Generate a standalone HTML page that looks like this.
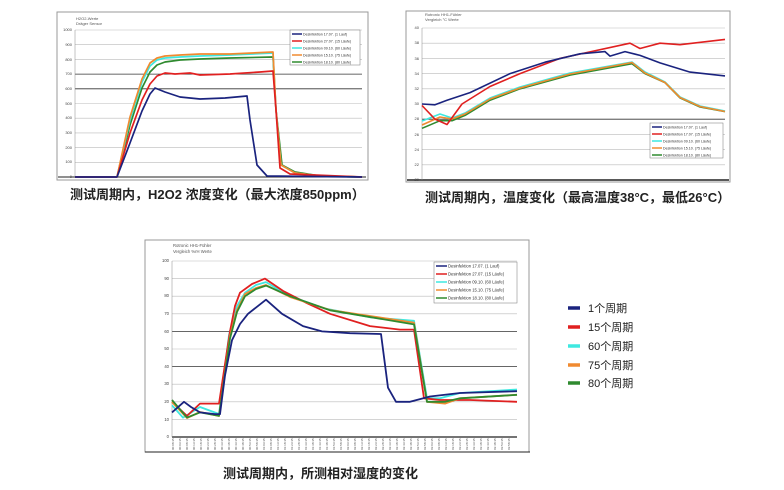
<!DOCTYPE html>
<html><head><meta charset="utf-8"><style>
html,body{margin:0;padding:0;background:#fff;width:784px;height:490px;overflow:hidden}
svg{display:block}
.t{font-family:"Liberation Sans","Noto Sans CJK SC",sans-serif}
.cap{font-weight:bold}
</style></head><body>
<svg width="784" height="490" viewBox="0 0 784 490" xmlns="http://www.w3.org/2000/svg">
<rect width="784" height="490" fill="#fff"/>
<!-- Chart 1 -->
<rect x="57" y="12" width="311" height="168" fill="#fff" stroke="#999" stroke-width="1"/>
<text x="76" y="20" font-size="4" fill="#555" class="t">H2O2-Werte</text>
<text x="76" y="25" font-size="4" fill="#555" class="t">Dräger Sensor</text>
<g stroke="#bbb" stroke-width="0.6">
<line x1="75" x2="362" y1="30" y2="30"/><line x1="75" x2="362" y1="44.7" y2="44.7"/><line x1="75" x2="362" y1="59.4" y2="59.4"/><line x1="75" x2="362" y1="103.5" y2="103.5"/><line x1="75" x2="362" y1="118.2" y2="118.2"/><line x1="75" x2="362" y1="132.9" y2="132.9"/><line x1="75" x2="362" y1="147.6" y2="147.6"/><line x1="75" x2="362" y1="162.3" y2="162.3"/>
</g>
<line x1="75" x2="362" y1="74.1" y2="74.1" stroke="#333" stroke-width="0.8"/>
<line x1="75" x2="362" y1="88.8" y2="88.8" stroke="#333" stroke-width="0.8"/>
<line x1="58" x2="366" y1="177" y2="177" stroke="#222" stroke-width="1"/>
<line x1="75" x2="75" y1="30" y2="177" stroke="#888" stroke-width="0.5"/>
<g font-size="4" fill="#444" class="t" text-anchor="end">
<text x="72" y="31">1000</text><text x="72" y="46">900</text><text x="72" y="61">800</text><text x="72" y="75">700</text><text x="72" y="90">600</text><text x="72" y="105">500</text><text x="72" y="119">400</text><text x="72" y="134">300</text><text x="72" y="149">200</text><text x="72" y="163">100</text><text x="72" y="178">0</text>
</g>
<g fill="none" stroke-width="1.7" stroke-linejoin="round">
<polyline stroke="#2f8a2f" points="75,177 117,177 130,125 142,88 150,72 157,65 165,62 180,60 200,59 230,58 273,57 276,110 282,165 295,172 320,176 362,177"/>
<polyline stroke="#3ee8e0" points="75,177 117,177 130,120 142,82 150,66 157,60 165,58 180,57 200,56 230,55 273,53 276,110 281,165 295,173 320,176 362,177"/>
<polyline stroke="#f08a30" points="75,177 117,177 130,117 142,79 150,63 157,58 165,56 180,55 200,54 230,54 273,52 276,110 281,165 295,173 320,176 362,177"/>
<polyline stroke="#e02020" points="75,177 117,177 130,133 142,100 150,84 157,76 165,73 175,74 190,73 200,75 230,74 260,72 273,71 276,110 280,168 290,174 362,177"/>
<polyline stroke="#1a237e" points="75,177 117,177 130,143 142,111 150,94 155,88 165,92 180,97 200,99 225,98 247,96 250,120 257,165 267,176 362,177"/>
</g>
<rect x="290" y="30" width="70" height="35" fill="#fff" stroke="#777" stroke-width="0.5"/>
<g stroke-width="1.5">
<line x1="292" x2="302" y1="34" y2="34" stroke="#1a237e"/><line x1="292" x2="302" y1="41" y2="41" stroke="#e02020"/><line x1="292" x2="302" y1="48" y2="48" stroke="#3ee8e0"/><line x1="292" x2="302" y1="55" y2="55" stroke="#f08a30"/><line x1="292" x2="302" y1="62" y2="62" stroke="#2f8a2f"/>
</g>
<g font-size="3.6" fill="#333" class="t">
<text x="303" y="35.5">Desinfektion 17.07. (1 Lauf)</text><text x="303" y="42.5">Desinfektion 27.07. (15 Läufe)</text><text x="303" y="49.5">Desinfektion 09.10. (60 Läufe)</text><text x="303" y="56.5">Desinfektion 15.10. (75 Läufe)</text><text x="303" y="63.5">Desinfektion 18.10. (80 Läufe)</text>
</g>
<text x="70" y="199" font-size="13" fill="#222" class="t cap">测试周期内，H2O2 浓度变化（最大浓度850ppm）</text>

<!-- Chart 2 -->
<rect x="406" y="11" width="324" height="171" fill="#fff" stroke="#999" stroke-width="1"/>
<text x="425" y="16" font-size="4" fill="#555" class="t">Rotronic HH1-Fühler</text>
<text x="425" y="21" font-size="4" fill="#555" class="t">Vergleich °C Werte</text>
<g stroke="#bbb" stroke-width="0.6">
<line x1="422" x2="725" y1="28" y2="28"/><line x1="422" x2="725" y1="43.2" y2="43.2"/><line x1="422" x2="725" y1="58.4" y2="58.4"/><line x1="422" x2="725" y1="73.6" y2="73.6"/><line x1="422" x2="725" y1="88.8" y2="88.8"/><line x1="422" x2="725" y1="104" y2="104"/><line x1="422" x2="725" y1="134.4" y2="134.4"/><line x1="422" x2="725" y1="149.6" y2="149.6"/><line x1="422" x2="725" y1="164.8" y2="164.8"/>
</g>
<line x1="422" x2="725" y1="119.2" y2="119.2" stroke="#333" stroke-width="0.8"/>
<line x1="407" x2="729" y1="180" y2="180" stroke="#222" stroke-width="1.5"/>
<line x1="422" x2="422" y1="28" y2="180" stroke="#888" stroke-width="0.5"/>
<g font-size="4" fill="#444" class="t" text-anchor="end">
<text x="419" y="29">40</text><text x="419" y="44">38</text><text x="419" y="60">36</text><text x="419" y="75">34</text><text x="419" y="90">32</text><text x="419" y="105">30</text><text x="419" y="120">28</text><text x="419" y="136">26</text><text x="419" y="151">24</text><text x="419" y="166">22</text><text x="419" y="181">20</text>
</g>
<g fill="none" stroke-width="1.6" stroke-linejoin="round">
<polyline stroke="#2f8a2f" points="422,128.3 440,120.7 452,120.7 465,115.4 490,100.2 520,88.8 570,75.1 632,63.7 645,73.6 665,82.7 680,97.9 700,107 725,111.6"/>
<polyline stroke="#3ee8e0" points="422,121 440,114 452,118 465,113 490,98 520,87 570,73 632,62 645,72 665,82 680,97 700,106 725,111"/>
<polyline stroke="#f08a30" points="422,125 440,117 452,119 465,114 490,99 520,88 570,74 632,62.5 645,73 665,82.5 680,97.5 700,106.5 725,111.5"/>
<polyline stroke="#e02020" points="422,105.5 435,119.2 447,124.5 462,104 490,86.5 520,73.6 560,58.4 630,43.2 640,48.5 660,43.2 680,44.7 725,39.4"/>
<polyline stroke="#1a237e" points="422,104 435,104.8 447,100.2 470,92.6 510,73.6 545,62.2 580,53.8 605,51.6 610,56.1 625,51.6 640,55.4 660,62.9 690,72.1 725,75.9"/>
</g>
<rect x="650" y="123" width="73" height="35" fill="#fff" stroke="#777" stroke-width="0.5"/>
<g stroke-width="1.5">
<line x1="652" x2="662" y1="127" y2="127" stroke="#1a237e"/><line x1="652" x2="662" y1="134" y2="134" stroke="#e02020"/><line x1="652" x2="662" y1="141" y2="141" stroke="#3ee8e0"/><line x1="652" x2="662" y1="148" y2="148" stroke="#f08a30"/><line x1="652" x2="662" y1="155" y2="155" stroke="#2f8a2f"/>
</g>
<g font-size="3.6" fill="#333" class="t">
<text x="663" y="128.5">Desinfektion 17.07. (1 Lauf)</text><text x="663" y="135.5">Desinfektion 17.07. (15 Läufe)</text><text x="663" y="142.5">Desinfektion 09.10. (60 Läufe)</text><text x="663" y="149.5">Desinfektion 15.10. (75 Läufe)</text><text x="663" y="156.5">Desinfektion 18.10. (80 Läufe)</text>
</g>
<text x="425" y="202" font-size="13" fill="#222" class="t cap">测试周期内，温度变化（最高温度38°C，最低26°C）</text>

<!-- Chart 3 -->
<rect x="145" y="240" width="384" height="212" fill="#fff" stroke="#999" stroke-width="1"/>
<text x="173" y="247" font-size="4.2" fill="#555" class="t">Rotronic HH1-Fühler</text>
<text x="173" y="253" font-size="4.2" fill="#555" class="t">Vergleich %rH Werte</text>
<g stroke="#bbb" stroke-width="0.6">
<line x1="172" x2="517" y1="261" y2="261"/><line x1="172" x2="517" y1="278.6" y2="278.6"/><line x1="172" x2="517" y1="296.2" y2="296.2"/><line x1="172" x2="517" y1="313.8" y2="313.8"/><line x1="172" x2="517" y1="349" y2="349"/><line x1="172" x2="517" y1="384.2" y2="384.2"/><line x1="172" x2="517" y1="401.8" y2="401.8"/><line x1="172" x2="517" y1="419.4" y2="419.4"/>
</g>
<line x1="172" x2="517" y1="331.4" y2="331.4" stroke="#333" stroke-width="0.8"/>
<line x1="172" x2="517" y1="366.6" y2="366.6" stroke="#333" stroke-width="0.8"/>
<line x1="172" x2="517" y1="437" y2="437" stroke="#222" stroke-width="1.2"/>
<line x1="172" x2="172" y1="261" y2="437" stroke="#888" stroke-width="0.5"/>
<line x1="145" x2="530" y1="452" y2="452" stroke="#222" stroke-width="1"/>
<g font-size="4.2" fill="#444" class="t" text-anchor="end">
<text x="169" y="262">100</text><text x="169" y="280">90</text><text x="169" y="297">80</text><text x="169" y="315">70</text><text x="169" y="333">60</text><text x="169" y="350">50</text><text x="169" y="368">40</text><text x="169" y="385">30</text><text x="169" y="403">20</text><text x="169" y="421">10</text><text x="169" y="438">0</text>
</g>
<g font-size="3" fill="#555" class="t">
<text transform="translate(174,450) rotate(-90)">00:08:35</text><text transform="translate(181,450) rotate(-90)">00:03:35</text><text transform="translate(188,450) rotate(-90)">00:08:35</text><text transform="translate(195,450) rotate(-90)">00:13:35</text><text transform="translate(202,450) rotate(-90)">00:18:35</text><text transform="translate(209,450) rotate(-90)">00:23:35</text><text transform="translate(216,450) rotate(-90)">00:28:35</text><text transform="translate(223,450) rotate(-90)">00:33:35</text><text transform="translate(230,450) rotate(-90)">00:38:35</text><text transform="translate(237,450) rotate(-90)">00:43:35</text><text transform="translate(244,450) rotate(-90)">00:48:35</text><text transform="translate(251,450) rotate(-90)">00:53:35</text><text transform="translate(258,450) rotate(-90)">00:58:35</text><text transform="translate(265,450) rotate(-90)">01:03:35</text><text transform="translate(272,450) rotate(-90)">01:08:35</text><text transform="translate(279,450) rotate(-90)">01:13:35</text><text transform="translate(286,450) rotate(-90)">01:18:35</text><text transform="translate(293,450) rotate(-90)">01:23:35</text><text transform="translate(300,450) rotate(-90)">01:28:35</text><text transform="translate(307,450) rotate(-90)">01:33:35</text><text transform="translate(314,450) rotate(-90)">01:38:35</text><text transform="translate(321,450) rotate(-90)">01:43:35</text><text transform="translate(328,450) rotate(-90)">01:48:35</text><text transform="translate(335,450) rotate(-90)">01:53:35</text><text transform="translate(342,450) rotate(-90)">01:58:35</text><text transform="translate(349,450) rotate(-90)">02:03:35</text><text transform="translate(356,450) rotate(-90)">02:08:35</text><text transform="translate(363,450) rotate(-90)">02:13:35</text><text transform="translate(370,450) rotate(-90)">02:18:35</text><text transform="translate(377,450) rotate(-90)">02:23:35</text><text transform="translate(384,450) rotate(-90)">02:28:35</text><text transform="translate(391,450) rotate(-90)">02:33:35</text><text transform="translate(398,450) rotate(-90)">02:38:35</text><text transform="translate(405,450) rotate(-90)">02:43:35</text><text transform="translate(412,450) rotate(-90)">02:48:35</text><text transform="translate(419,450) rotate(-90)">02:53:35</text><text transform="translate(426,450) rotate(-90)">02:58:35</text><text transform="translate(433,450) rotate(-90)">03:03:35</text><text transform="translate(440,450) rotate(-90)">03:08:35</text><text transform="translate(447,450) rotate(-90)">03:13:35</text><text transform="translate(454,450) rotate(-90)">03:18:35</text><text transform="translate(461,450) rotate(-90)">03:23:35</text><text transform="translate(468,450) rotate(-90)">03:28:35</text><text transform="translate(475,450) rotate(-90)">03:33:35</text><text transform="translate(482,450) rotate(-90)">03:38:35</text><text transform="translate(489,450) rotate(-90)">03:43:35</text><text transform="translate(496,450) rotate(-90)">03:48:35</text><text transform="translate(503,450) rotate(-90)">03:53:35</text><text transform="translate(510,450) rotate(-90)">03:58:35</text>
</g>
<g fill="none" stroke-width="1.8" stroke-linejoin="round">
<polyline stroke="#3ee8e0" points="172,405.3 183,417.6 200,407 219,414 229,335 237,306 245,292.7 256,285 266,282.1 290,296.2 325,308.5 370,317.3 414,320.8 427,398.3 440,398.3 460,393 517,389.5"/>
<polyline stroke="#e02020" points="172,401.8 187,415.9 200,403.6 219,403.6 230,331.4 235,306 240,292.7 252,284 265,278.6 283,290.9 307,303.2 330,313.8 370,326.1 400,329.6 414,329.6 424,398.3 440,400 470,400 517,401.8"/>
<polyline stroke="#f08a30" points="172,402 187,418 200,412 219,416 230,336 237,310 245,294 256,288 266,285 290,297 330,310 414,322.6 427,401.8 445,403.6 460,398.3 517,394.8"/>
<polyline stroke="#2f8a2f" points="172,400 187,417.6 200,412.4 219,415.9 230,338.4 237,312 245,296.2 256,289 266,285.6 290,296.2 330,310.3 414,324.4 427,401.8 445,401.8 460,398.3 517,394.8"/>
<polyline stroke="#1a237e" points="172,412.4 184,401.8 191,407 200,412.4 215,414.1 220,414.1 225,375.4 232,340.2 240,324 248,313.8 266,299.7 282,313.8 303,326.1 322,331.4 350,333.2 381,334 388,387.7 396,401.8 410,401.8 430,396.5 460,393 517,391.2"/>
</g>
<rect x="434" y="262" width="83" height="41" fill="#fff" stroke="#777" stroke-width="0.5"/>
<g stroke-width="1.5">
<line x1="436" x2="447" y1="266" y2="266" stroke="#1a237e"/><line x1="436" x2="447" y1="274" y2="274" stroke="#e02020"/><line x1="436" x2="447" y1="282" y2="282" stroke="#3ee8e0"/><line x1="436" x2="447" y1="290" y2="290" stroke="#f08a30"/><line x1="436" x2="447" y1="298" y2="298" stroke="#2f8a2f"/>
</g>
<g font-size="4.2" fill="#333" class="t">
<text x="448" y="267.5">Desinfektion 17.07. (1 Lauf)</text><text x="448" y="275.5">Desinfektion 27.07. (15 Läufe)</text><text x="448" y="283.5">Desinfektion 09.10. (60 Läufe)</text><text x="448" y="291.5">Desinfektion 15.10. (75 Läufe)</text><text x="448" y="299.5">Desinfektion 18.10. (80 Läufe)</text>
</g>
<text x="223" y="478" font-size="13" fill="#222" class="t cap">测试周期内，所测相对湿度的变化</text>

<!-- Right legend -->
<g stroke-width="3.5">
<line x1="568" x2="580" y1="308" y2="308" stroke="#1a237e"/>
<line x1="568" x2="580" y1="327" y2="327" stroke="#e02020"/>
<line x1="568" x2="580" y1="346" y2="346" stroke="#3ee8e0"/>
<line x1="568" x2="580" y1="365" y2="365" stroke="#f08a30"/>
<line x1="568" x2="580" y1="383" y2="383" stroke="#2f8a2f"/>
</g>
<g font-size="11" fill="#222" class="t">
<text x="588" y="312">1个周期</text><text x="588" y="331">15个周期</text><text x="588" y="350">60个周期</text><text x="588" y="369">75个周期</text><text x="588" y="387">80个周期</text>
</g>
</svg>
</body></html>
